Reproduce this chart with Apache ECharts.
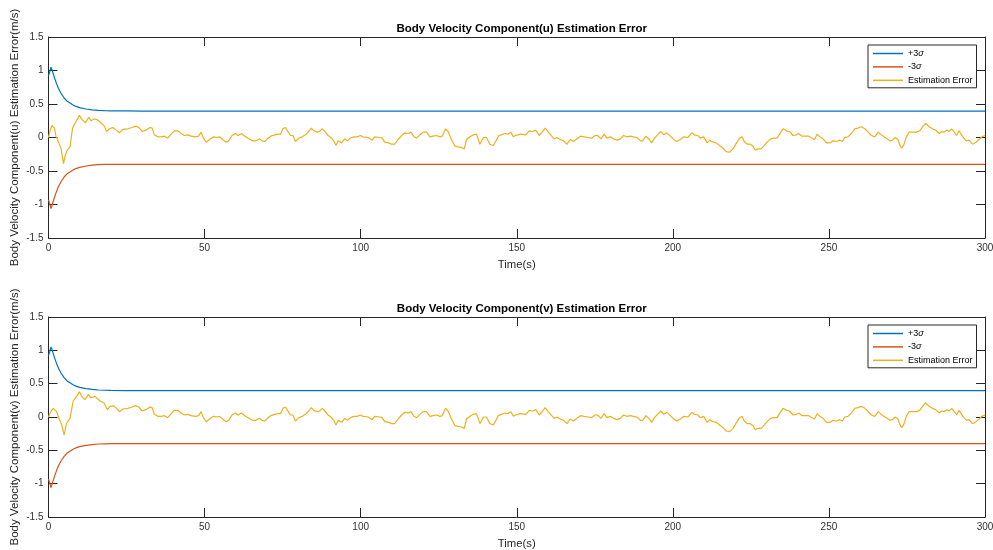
<!DOCTYPE html>
<html>
<head>
<meta charset="utf-8">
<title>Body Velocity Component Estimation Error</title>
<script src="https://cdn.jsdelivr.net/npm/echarts@6/dist/echarts.min.js"></script>
<style>
  html, body { margin: 0; padding: 0; background: #ffffff; }
  #chart { width: 993px; height: 550px; }
</style>
</head>
<body>
<div id="chart"></div>
<script>
// ---- 3-sigma bounds (same for u and v) ----
const sigmaTime  = [0, 0.4, 0.8, 1.2, 1.6, 2.0, 2.6, 3.2, 4.0, 5.0, 6.0, 7.0, 8.0, 9.0, 10, 12, 14, 16, 18, 20, 25, 30, 40, 300];
const sigmaUpper = [0.92, 0.98, 1.05, 1.0, 0.94, 0.88, 0.80, 0.73, 0.66, 0.59, 0.54, 0.51, 0.48, 0.46, 0.445, 0.425, 0.413, 0.405, 0.401, 0.398, 0.396, 0.395, 0.395, 0.395];
const sigmaLower = [-0.93, -0.99, -1.06, -1.0, -0.94, -0.88, -0.80, -0.73, -0.66, -0.59, -0.54, -0.51, -0.48, -0.46, -0.445, -0.425, -0.413, -0.405, -0.402, -0.40, -0.40, -0.40, -0.40, -0.40];

// ---- estimation error, start-up transient of u ----
const uEarlyTime = [0, 0.5, 1.1, 1.9, 2.4, 3.3, 4.0, 4.8, 5.4, 6.1, 6.9, 7.7, 8.6, 9.9, 10.7, 11.8, 12.9, 13.6, 14.7, 15.8, 16.8, 17.9, 18.6, 19.5, 20.6, 21.7, 22.7];
const uEarlyErr  = [0, 0.10, 0.18, 0.14, 0.02, -0.08, -0.16, -0.39, -0.26, -0.18, -0.14, 0.14, 0.22, 0.33, 0.27, 0.22, 0.30, 0.25, 0.28, 0.26, 0.22, 0.17, 0.09, 0.13, 0.15, 0.11, 0.07];

// ---- estimation error, start-up transient of v ----
const vEarlyTime = [0, 0.7, 1.5, 2.6, 3.5, 4.2, 5.0, 5.8, 6.9, 7.9, 9.0, 9.9, 10.6, 11.7, 12.8, 13.5, 14.9, 16.5, 17.8, 18.9, 19.7, 20.8, 21.8, 22.7];
const vEarlyErr  = [0, 0.08, 0.13, 0.08, -0.04, -0.11, -0.27, -0.09, -0.02, 0.24, 0.31, 0.38, 0.31, 0.26, 0.34, 0.29, 0.31, 0.24, 0.21, 0.11, 0.16, 0.17, 0.13, 0.08];

// ---- estimation error after the transient (u and v coincide) ----
const tailTime = [
  23.8, 25.4, 26.8, 28.0, 28.9, 30.0, 31.2, 32.5, 33.2, 33.9, 35.0, 36.1, 37.1, 38.2, 39.3, 40.3, 41.4, 42.5, 43.5, 44.6,
  45.7, 47.1, 48.1, 48.9, 49.6, 50.5, 51.9, 52.9, 54.0, 54.8, 55.8, 56.9, 57.7, 58.8, 59.9, 60.7, 61.8, 62.9, 64.2, 65.4,
  66.5, 67.6, 68.4, 69.3, 70.1, 71.2, 72.5, 73.6, 74.3, 75.1, 75.9, 76.8, 77.5, 78.3, 79.1, 80.2, 81.3, 82.3, 83.4, 84.2,
  85.0, 86.1, 86.8, 87.7, 88.5, 89.6, 90.7, 91.4, 92.1, 92.8, 93.9, 94.9, 95.8, 96.7, 97.8, 98.9, 99.9, 100.8, 101.3, 102.4,
  103.7, 104.5, 105.1, 106.1, 106.9, 107.7, 109.0, 109.9, 110.9, 112.0, 113.1, 114.2, 115.2, 116.1, 117.1, 117.9, 119.0, 120.0, 121.1, 122.2,
  123.2, 124.3, 125.4, 126.1, 127.2, 128.0, 129.1, 130.2, 131.2, 132.3, 133.2, 133.9, 135.0, 136.1, 137.1, 138.2, 139.3, 140.3, 141.4, 142.5,
  143.2, 144.1, 145.1, 146.2, 147.1, 148.1, 148.9, 149.6, 150.4, 151.3, 152.9, 154.0, 155.1, 156.1, 157.2, 158.3, 159.1, 160.1, 161.2, 162.0,
  162.9, 163.9, 165.0, 166.1, 167.1, 168.2, 169.3, 170.4, 171.6, 172.9, 174.0, 175.1, 175.9, 177.0, 178.0, 178.9, 180.0, 181.0, 182.1, 183.2,
  184.2, 185.3, 186.4, 187.4, 188.5, 189.6, 190.3, 191.4, 192.5, 193.2, 194.1, 195.1, 196.2, 197.1, 198.1, 199.2, 200.3, 201.3, 202.4, 203.5,
  204.8, 205.4, 206.1, 206.9, 208.0, 208.8, 209.9, 211.0, 211.8, 212.9, 213.9, 215.0, 216.1, 217.1, 218.2, 219.3, 220.4, 221.4, 222.2, 222.9,
  223.8, 224.8, 225.7, 226.4, 227.2, 228.3, 229.1, 230.2, 231.3, 232.3, 233.4, 234.2, 235.3, 236.4, 237.4, 238.5, 239.6, 240.3, 241.4, 242.5,
  243.5, 244.6, 245.4, 246.2, 247.1, 248.1, 249.2, 250.4, 251.3, 252.4, 253.5, 254.3, 255.1, 256.1, 257.2, 258.3, 259.3, 260.4, 261.5, 262.6,
  263.6, 264.7, 265.8, 266.5, 267.6, 268.4, 269.5, 270.4, 271.2, 272.1, 272.7, 273.3, 274.0, 274.8, 275.7, 276.8, 278.0, 279.1, 280.2, 281.0,
  282.1, 283.2, 284.2, 285.3, 286.1, 286.8, 287.7, 288.5, 289.3, 290.0, 290.9, 291.7, 292.5, 293.2, 294.1, 294.9, 296.0, 297.1, 298.1, 299.0,
  299.6, 300
];
const tailErr = [
  0.12, 0.13, 0.15, 0.17, 0.15, 0.09, 0.11, 0.15, 0.14, 0.04, 0.01, 0.01, 0.02, -0.01, 0.05, 0.10, 0.10, 0.06, 0.03, 0.04,
  0.02, 0.01, 0.02, 0.08, -0.01, -0.07, -0.02, 0.01, 0.0, 0.01, -0.03, -0.07, -0.05, 0.03, 0.06, 0.03, 0.06, 0.02, -0.02, -0.05,
  -0.05, -0.02, -0.05, -0.06, -0.02, 0.02, 0.04, 0.05, 0.05, 0.13, 0.15, 0.08, 0.03, 0.03, -0.06, -0.01, 0.01, 0.04, 0.09, 0.14,
  0.10, 0.08, 0.09, 0.13, 0.09, 0.03, -0.01, -0.05, -0.12, -0.05, -0.08, -0.02, -0.05, -0.01, 0.01, 0.01, 0.03, 0.01, 0.03, 0.0,
  -0.04, 0.01, -0.01, 0.0, -0.01, -0.07, -0.08, -0.10, -0.10, -0.03, 0.03, 0.07, 0.06, 0.08, 0.01, -0.01, 0.04, 0.08, 0.08, 0.01,
  0.02, 0.03, 0.01, 0.02, 0.13, 0.09, -0.03, -0.13, -0.14, -0.15, -0.17, -0.03, 0.01, 0.04, 0.05, -0.10, 0.0, 0.0, -0.10, -0.12,
  -0.06, 0.02, 0.04, 0.06, 0.05, 0.08, 0.01, 0.03, 0.04, 0.05, 0.04, 0.10, 0.09, 0.11, 0.03, 0.09, 0.14, 0.08, 0.02, -0.02,
  0.0, -0.03, -0.05, -0.10, -0.03, -0.06, -0.02, 0.02, 0.01, 0.0, -0.01, 0.03, 0.03, -0.02, 0.05, -0.01, 0.01, -0.02, -0.04, -0.02,
  0.03, 0.01, 0.02, 0.01, 0.0, -0.05, -0.05, 0.02, -0.03, -0.08, -0.01, 0.04, 0.09, 0.04, 0.07, 0.02, -0.03, -0.06, -0.03, 0.01,
  0.0, 0.02, 0.07, 0.04, 0.03, -0.01, 0.01, -0.08, -0.04, -0.07, -0.08, -0.12, -0.16, -0.21, -0.22, -0.17, -0.08, -0.01, 0.01, -0.06,
  -0.10, -0.10, -0.13, -0.19, -0.17, -0.17, -0.13, -0.07, -0.02, -0.01, -0.01, 0.05, 0.13, 0.10, 0.09, 0.03, 0.04, 0.06, 0.02, 0.02,
  0.02, -0.01, -0.03, 0.05, 0.01, -0.02, -0.08, -0.08, -0.05, -0.06, -0.04, -0.06, 0.0, 0.01, 0.06, 0.13, 0.14, 0.16, 0.13, 0.08,
  0.03, 0.01, 0.08, 0.05, 0.01, -0.01, -0.05, -0.04, 0.0, -0.03, -0.11, -0.16, -0.11, 0.01, 0.08, 0.08, 0.08, 0.10, 0.17, 0.21,
  0.16, 0.13, 0.11, 0.06, 0.09, 0.08, 0.11, 0.09, 0.13, 0.09, 0.03, 0.10, 0.04, -0.01, -0.05, -0.04, -0.10, -0.07, -0.03, 0.01,
  0.0, 0.03
];

// ---- axes ----
const timeTicks = { min: 0, max: 300, interval: 50 };
const errTicks  = { min: -1.5, max: 1.5, interval: 0.5 };

const titles = ['Body Velocity Component(u) Estimation Error', 'Body Velocity Component(v) Estimation Error'];
const yNames = ['Body Velocity Component(u) Estimation Error(m/s)', 'Body Velocity Component(v) Estimation Error(m/s)'];
const xName = 'Time(s)';
const seriesNames = ['+3σ', '-3σ', 'Estimation Error'];
const seriesColors = ['#0072BD', '#D95319', '#EDB120'];

const FONT = '"Liberation Sans", Arial, Helvetica, sans-serif';
const AXIS_COLOR = '#262626';

function pairs(xs, ys) { return xs.map((x, i) => [x, ys[i]]); }

const uErr = pairs(uEarlyTime.concat(tailTime), uEarlyErr.concat(tailErr));
const vErr = pairs(vEarlyTime.concat(tailTime), vEarlyErr.concat(tailErr));
const upper = pairs(sigmaTime, sigmaUpper);
const lower = pairs(sigmaTime, sigmaLower);

const gridTops = [37, 317];
const gridHeights = [201, 200];
const GRID_LEFT = 48.5;
const GRID_WIDTH = 936.5;

const grids = gridTops.map((t, i) => ({
  left: GRID_LEFT, top: t, width: GRID_WIDTH, height: gridHeights[i],
  containLabel: false, outerBoundsMode: 'none'
}));

const xAxes = [];
const yAxes = [];
grids.forEach((g, i) => {
  const tick = { show: true, inside: true, length: 9, lineStyle: { color: AXIS_COLOR, width: 1 } };
  const line = { show: true, onZero: false, lineStyle: { color: AXIS_COLOR, width: 1 } };
  xAxes.push({
    type: 'value', gridIndex: i, position: 'bottom', ...timeTicks,
    axisLine: line, axisTick: tick, splitLine: { show: false },
    axisLabel: { show: true, margin: 5, color: '#333', fontSize: 10, fontFamily: FONT },
    name: xName, nameLocation: 'middle', nameGap: 21, nameMoveOverlap: false,
    nameTextStyle: { color: '#262626', fontSize: 11.3, fontFamily: FONT }
  });
  xAxes.push({
    type: 'value', gridIndex: i, position: 'top', ...timeTicks,
    axisLine: line, axisTick: tick, splitLine: { show: false }, axisLabel: { show: false }
  });
  yAxes.push({
    type: 'value', gridIndex: i, position: 'left', ...errTicks,
    axisLine: line, axisTick: tick, splitLine: { show: false },
    axisLabel: { show: true, margin: 5, color: '#333', fontSize: 10, fontFamily: FONT },
    name: yNames[i], nameLocation: 'middle', nameGap: 28, nameMoveOverlap: false,
    nameTextStyle: { color: '#262626', fontSize: 11.5, fontFamily: FONT }
  });
  yAxes.push({
    type: 'value', gridIndex: i, position: 'right', ...errTicks,
    axisLine: line, axisTick: tick, splitLine: { show: false }, axisLabel: { show: false }
  });
});

function lineSeries(name, data, color, idx) {
  return {
    name: name, type: 'line', data: data,
    xAxisIndex: idx * 2, yAxisIndex: idx * 2,
    symbol: 'none', showSymbol: false, smooth: false,
    lineStyle: { color: color, width: 1.2 }, itemStyle: { color: color },
    emphasis: { disabled: true }, z: 3
  };
}

const errData = [uErr, vErr];
const series = [];
[0, 1].forEach(i => {
  series.push(lineSeries(seriesNames[0], upper, seriesColors[0], i));
  series.push(lineSeries(seriesNames[1], lower, seriesColors[1], i));
  series.push(lineSeries(seriesNames[2], errData[i], seriesColors[2], i));
});

const legends = gridTops.map((t, i) => ({
  orient: 'vertical', left: 868, top: t + 8,
  data: seriesNames,
  icon: 'rect', itemWidth: 30, itemHeight: 1.5, itemGap: 2.4,
  padding: [3, 4, 2, 5],
  backgroundColor: '#ffffff', borderColor: AXIS_COLOR, borderWidth: 1,
  selectedMode: false,
  formatter: function (name) {
    if (name === '+3σ') return '+3{s|σ}';
    if (name === '-3σ') return '-3{s|σ}';
    return name;
  },
  textStyle: {
    color: '#000', fontSize: 9, lineHeight: 11, fontFamily: FONT,
    rich: { s: { fontStyle: 'italic', fontSize: 9, fontFamily: FONT } }
  }
}));

const titleItems = titles.map((txt, i) => ({
  text: txt, left: GRID_LEFT + GRID_WIDTH / 2, textAlign: 'center', top: gridTops[i] - 19,
  textStyle: { fontSize: 11.5, fontWeight: 'bold', color: '#000', fontFamily: FONT }
}));

const chart = echarts.init(document.getElementById('chart'), null, { renderer: 'canvas' });
chart.setOption({
  animation: false,
  backgroundColor: '#ffffff',
  title: titleItems,
  legend: legends,
  grid: grids,
  xAxis: xAxes,
  yAxis: yAxes,
  series: series
});
</script>
</body>
</html>
